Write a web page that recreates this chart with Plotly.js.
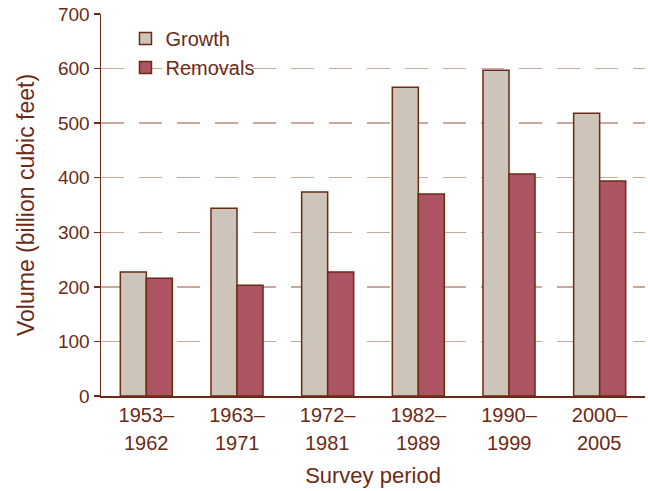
<!DOCTYPE html>
<html><head><meta charset="utf-8">
<script src="https://cdn.plot.ly/plotly-3.0.1.min.js"></script>
<style>html,body{margin:0;padding:0;background:#fff}#chart{width:648px;height:491px}</style>
</head><body><div id="chart"></div>
<script>
const periods = ["1953–1962","1963–1971","1972–1981","1982–1989","1990–1999","2000–2005"];
const labelsTop = ["1953–","1963–","1972–","1982–","1990–","2000–"];
const labelsBottom = ["1962","1971","1981","1989","1999","2005"];
const growth = [227, 344, 374, 566, 597, 518];
const removals = [216, 203, 227, 370, 407, 394];

const ink = '#6b2a16';
const font = 'Liberation Sans, Arial, sans-serif';
const idx = periods.map((_, i) => i);

const traces = [
  {type:'bar', name:'Growth', x: idx, y: growth,
   marker:{color:'#cec5ba', line:{color: ink, width:1.5}}},
  {type:'bar', name:'Removals', x: idx, y: removals,
   marker:{color:'#ac5462', line:{color: ink, width:1.5}}}
];

const annotations = labelsBottom.map((t, i) => ({
  text: t, x: i, xref:'x', y: 0, yref:'paper', yanchor:'middle', xanchor:'center',
  yshift: -47, showarrow:false, font:{size:20, color: ink}
}));

const layout = {
  width:648, height:491,
  margin:{l:101, r:3, t:14, b:95},
  paper_bgcolor:'#fff', plot_bgcolor:'#fff',
  font:{family: font, color: ink, size:19},
  barmode:'group', bargap:0.426, bargroupgap:0,
  showlegend:true,
  legend:{x:0.045, y:0.987, xanchor:'left', yanchor:'top', bgcolor:'rgba(0,0,0,0)',
          font:{size:20, color: ink}, tracegroupgap:4, itemwidth:30},
  annotations: annotations,
  xaxis:{type:'linear', range:[-0.5,5.5], tickmode:'array', tickvals: idx, ticktext: labelsTop,
         showline:true, linecolor: ink, linewidth:1.5, ticks:'', showgrid:false, zeroline:false,
         tickfont:{size:20, color: ink}, automargin:false,
         title:{text:'Survey period', font:{size:22, color: ink}, standoff:43}},
  yaxis:{range:[0,700], tickmode:'array', tickvals:[0,100,200,300,400,500,600,700],
         showline:true, linecolor: ink, linewidth:1.5, ticks:'outside', ticklen:6, tickcolor: ink, tickwidth:1.5,
         showgrid:true, gridcolor:'#c9a99b', gridwidth:1.5, griddash:'23px,15px', zeroline:false,
         tickfont:{size:19, color: ink}, automargin:false,
         title:{text:'Volume (billion cubic feet)', font:{size:23, color: ink}, standoff:17}}
};

Plotly.newPlot('chart', traces, layout, {displayModeBar:false, staticPlot:true});
</script></body></html>
